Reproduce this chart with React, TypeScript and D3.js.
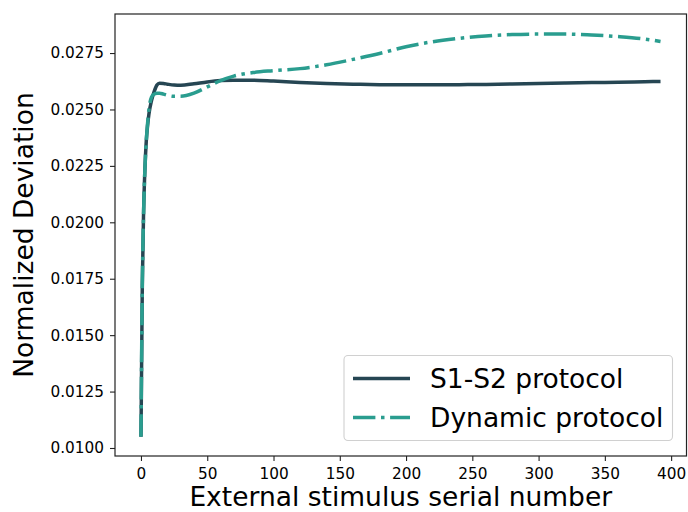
import React, { useEffect, useRef } from "react";
import * as d3 from "d3";

// sampled stimulus numbers (x) shared by both series
const stimulus = [
  0, 1, 2, 3, 4, 5, 6, 8, 10, 12, 14, 17, 20, 25, 30, 40, 50, 60, 70, 85, 100,
  120, 140, 160, 180, 200, 220, 240, 260, 280, 300, 320, 340, 360, 380, 392,
];

const s1s2 = [
  0.0105, 0.0172, 0.0205, 0.0224, 0.0236, 0.0243, 0.0248, 0.0254, 0.0258,
  0.02608, 0.02616, 0.02615, 0.02612, 0.02608, 0.02607, 0.02614, 0.02622,
  0.02628, 0.0263, 0.0263, 0.02626, 0.0262, 0.02615, 0.02612, 0.0261, 0.02609,
  0.02609, 0.0261, 0.02611, 0.02613, 0.02615, 0.02617, 0.02619, 0.02621,
  0.02623, 0.02624,
];

const dynamic = [
  0.0105, 0.0172, 0.0205, 0.0224, 0.0236, 0.0244, 0.025, 0.02555, 0.02568,
  0.02572, 0.02572, 0.02568, 0.02563, 0.02558, 0.02558, 0.02572, 0.026,
  0.02628, 0.02648, 0.02664, 0.02672, 0.02681, 0.02698, 0.02722, 0.02748,
  0.02778, 0.028, 0.02815, 0.02826, 0.02832, 0.02834, 0.02834, 0.0283,
  0.02823, 0.02812, 0.02801,
];

const xTicks = [0, 50, 100, 150, 200, 250, 300, 350, 400];
const yTicks = [0.01, 0.0125, 0.015, 0.0175, 0.02, 0.0225, 0.025, 0.0275];
const seriesNames = ["S1-S2 protocol", "Dynamic protocol"];

const FONT = "'DejaVu Sans', sans-serif";
const DASHDOT = "22.4,5.6,3.5,5.6";

function Chart() {
  const svgRef = useRef<SVGSVGElement>(null);

  useEffect(() => {
    const W = 688;
    const H = 512;
    const left = 115;
    const right = 686.5;
    const top = 14;
    const bottom = 456;

    d3.select(svgRef.current).selectAll("*").remove();
    const svg = d3
      .select(svgRef.current)
      .attr("width", W)
      .attr("height", H)
      .style("display", "block")
      .style("background", "#fff");

    const x = d3.scaleLinear().domain([-19.6, 411.6]).range([left, right]);
    const y = d3.scaleLinear().domain([0.009645, 0.02923]).range([bottom, top]);

    const line = d3
      .line<number>()
      .x((d, i) => x(stimulus[i]))
      .y((d) => y(d))
      .curve(d3.curveMonotoneX);

    svg
      .append("path")
      .attr("d", line(s1s2))
      .attr("fill", "none")
      .attr("stroke", "#264653")
      .attr("stroke-width", 3.5);

    svg
      .append("path")
      .attr("d", line(dynamic))
      .attr("fill", "none")
      .attr("stroke", "#2a9d8f")
      .attr("stroke-width", 3.5)
      .attr("stroke-dasharray", DASHDOT);

    // axes
    const xAxis = d3
      .axisBottom(x)
      .tickValues(xTicks)
      .tickSize(5)
      .tickPadding(7)
      .tickFormat(d3.format("d"));
    const gx = svg.append("g").attr("transform", `translate(0,${bottom})`).call(xAxis);
    gx.select(".domain").remove();
    gx.selectAll("line").attr("stroke", "#222").attr("stroke-width", 1.1);
    gx.selectAll("text")
      .attr("font-family", FONT)
      .attr("font-size", 15.3)
      .attr("fill", "#000");

    const yAxis = d3
      .axisLeft(y)
      .tickValues(yTicks)
      .tickSize(5)
      .tickPadding(6)
      .tickFormat(d3.format(".4f"));
    const gy = svg.append("g").attr("transform", `translate(${left},0)`).call(yAxis);
    gy.select(".domain").remove();
    gy.selectAll("line").attr("stroke", "#222").attr("stroke-width", 1.1);
    gy.selectAll("text")
      .attr("font-family", FONT)
      .attr("font-size", 15.3)
      .attr("fill", "#000");

    // frame
    svg
      .append("rect")
      .attr("x", left)
      .attr("y", top)
      .attr("width", right - left)
      .attr("height", bottom - top)
      .attr("fill", "none")
      .attr("stroke", "#222")
      .attr("stroke-width", 1.2);

    // labels
    svg
      .append("text")
      .attr("x", (left + right) / 2)
      .attr("y", 506)
      .attr("text-anchor", "middle")
      .attr("font-family", FONT)
      .attr("font-size", 26.5)
      .text("External stimulus serial number");

    svg
      .append("text")
      .attr("transform", `translate(33,${(top + bottom) / 2}) rotate(-90)`)
      .attr("text-anchor", "middle")
      .attr("font-family", FONT)
      .attr("font-size", 26.5)
      .text("Normalized Deviation");

    // legend
    const lg = svg.append("g");
    lg.append("rect")
      .attr("x", 344)
      .attr("y", 355.5)
      .attr("width", 328.5)
      .attr("height", 85)
      .attr("rx", 4)
      .attr("fill", "#fff")
      .attr("fill-opacity", 0.8)
      .attr("stroke", "#d0d0d0")
      .attr("stroke-width", 1.1);

    const rows = [
      { name: seriesNames[0], color: "#264653", dash: null },
      { name: seriesNames[1], color: "#2a9d8f", dash: DASHDOT },
    ];
    rows.forEach((r, i) => {
      const cy = 378.5 + i * 39;
      lg.append("line")
        .attr("x1", 353)
        .attr("x2", 410)
        .attr("y1", cy)
        .attr("y2", cy)
        .attr("stroke", r.color)
        .attr("stroke-width", 3.5)
        .attr("stroke-dasharray", r.dash);
      lg.append("text")
        .attr("x", 430)
        .attr("y", cy + 9.5)
        .attr("font-family", FONT)
        .attr("font-size", 26.5)
        .text(r.name);
    });
  }, []);

  return <svg ref={svgRef}></svg>;
}

export default function App() {
  return (
    <div style={{ position: "fixed", left: 0, top: 0, width: 688, height: 512, overflow: "hidden" }}>
      <Chart />
    </div>
  );
}
